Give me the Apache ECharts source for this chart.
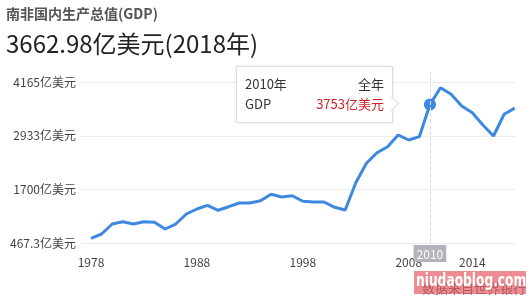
<!DOCTYPE html>
<html><head><meta charset="utf-8">
<script src="https://cdn.jsdelivr.net/npm/echarts@6/dist/echarts.min.js"></script>
<style>html,body{margin:0;padding:0;background:#fff}#c{width:531px;height:300px}</style>
</head><body><div id="c"></div>
<script>
// ---- data ----
const years = [1978,1979,1980,1981,1982,1983,1984,1985,1986,1987,1988,1989,1990,1991,1992,1993,1994,1995,1996,1997,1998,1999,2000,2001,2002,2003,2004,2005,2006,2007,2008,2009,2010,2011,2012,2013,2014,2015,2016,2017,2018];
const gdp = [467.3,573,818,875,818,875,860,696,818,1064,1187,1277,1155,1243,1334,1334,1390,1547,1481,1513,1376,1358,1358,1228,1162,1832,2309,2569,2716,3003,2881,2962,3753,4165,4002,3715,3551,3249,2979,3512,3662.98];
const xTickYears = [1978,1988,1998,2008,2014];
const yTickLabels = ['467.3','1700','2933','4165'];
const yTickPositions = [352,1667,2982,4297];
const unit = '亿美元';
const titleText = '南非国内生产总值(GDP)';
const subtitleText = '3662.98亿美元(2018年)';
const sourceText = '数据来自世界银行';
const watermarkText = 'niudaoblog.com';
const seriesName = 'GDP';
const periodText = '全年';
const highlightIndex = 32;

const FONT = '"Noto Sans CJK SC", "Noto Sans", sans-serif';
const BLUE = '#3f88e2';

const chart = echarts.init(document.getElementById('c'), null, {renderer: 'canvas'});
const lineData = years.map((y, i) => [y, gdp[i]]);

chart.setOption({
  animation: false,
  textStyle: {fontFamily: FONT},
  title: [
    {text: titleText, left: 6, top: 7, padding: 0, textStyle: {fontSize: 14, fontWeight: 'bold', color: '#555', fontFamily: FONT}},
    {text: subtitleText, left: 6, top: 32, padding: 0, textStyle: {fontSize: 24, fontWeight: 'normal', color: '#222', fontFamily: FONT}}
  ],
  grid: {left: 81, right: 16, top: 72, bottom: 57},
  xAxis: {
    type: 'value', min: 1977.056, max: 2018.03,
    axisLine: {show: false},
    axisTick: {show: false, customValues: xTickYears},
    splitLine: {show: false},
    axisLabel: {customValues: xTickYears, color: '#444', fontSize: 12, margin: 13, formatter: v => String(v)},
    axisPointer: {
      show: true, snap: true, type: 'line',
      lineStyle: {color: '#dcdcdc', width: 1},
      label: {show: true, formatter: p => String(Math.round(p.value)), backgroundColor: '#b3b3bb', color: '#fff', fontSize: 12, padding: [3, 3, 2, 3], margin: 2, borderRadius: 0, fontFamily: FONT}
    }
  },
  yAxis: {
    type: 'value', min: 352, max: 4550,
    axisLine: {show: false},
    axisTick: {show: false, customValues: yTickPositions},
    axisLabel: {
      customValues: yTickPositions, color: '#444', fontSize: 12, margin: 5,
      formatter: v => {
        let best = 0;
        yTickPositions.forEach((p, i) => { if (Math.abs(p - v) < Math.abs(yTickPositions[best] - v)) best = i; });
        return yTickLabels[best] + unit;
      }
    },
    splitLine: {show: true, lineStyle: {color: '#ececec', width: 1}}
  },
  tooltip: {
    trigger: 'axis',
    triggerOn: 'none',
    alwaysShowContent: true,
    transitionDuration: 0,
    backgroundColor: '#fff',
    borderColor: '#dddddd',
    borderWidth: 1,
    borderRadius: 1,
    padding: 0,
    extraCssText: 'box-shadow: 0 0 3px rgba(0,0,0,0.12);',
    axisPointer: {type: 'line'},
    position: (point) => [point[0] - 194, point[1] - 38],
    formatter: (params) => {
      const p = Array.isArray(params) ? params[0] : params;
      const yr = years[p.dataIndex];
      const v = gdp[p.dataIndex];
      return '<div style="position:relative;width:139px;padding:7px 8px 8px;line-height:20px;font-size:13px;color:#333;font-family:' + FONT.replace(/"/g, "'") + '">' +
        '<div style="display:flex;justify-content:space-between"><span>' + yr + '年</span><span>' + periodText + '</span></div>' +
        '<div style="display:flex;justify-content:space-between"><span>' + seriesName + '</span><span style="color:#d0232b">' + v + unit + '</span></div>' +
        '<div style="position:absolute;right:-5px;top:31px;width:10px;height:10px;background:#fff;border-top:1px solid #ddd;border-right:1px solid #ddd;transform:rotate(45deg)"></div>' +
        '</div>';
    }
  },
  series: [
    {
      type: 'line', name: seriesName, data: lineData,
      showSymbol: false, symbol: 'circle', symbolSize: 11,
      lineStyle: {color: BLUE, width: 3},
      itemStyle: {color: BLUE},
      emphasis: {disabled: true}
    },
    {
      type: 'scatter', data: [lineData[highlightIndex]], symbol: 'circle', symbolSize: 11,
      itemStyle: {color: BLUE}, silent: true, emphasis: {disabled: true}, z: 5
    }
  ],
  graphic: [
    {type: 'text', x: 422, y: 282, z: 10, style: {text: sourceText, fontSize: 13, fill: '#777', fontFamily: FONT}},
    {type: 'rect', x: 414, y: 271, z: 11, shape: {width: 112, height: 23}, style: {fill: 'rgba(226,70,80,0.62)'}},
    {type: 'text', x: 416, y: 272, scaleX: 0.68, z: 12, style: {text: watermarkText, fontSize: 18, fontWeight: 'bold', fill: '#fff', fontFamily: '"DejaVu Sans", sans-serif'}}
  ]
});

chart.dispatchAction({type: 'showTip', seriesIndex: 0, dataIndex: highlightIndex});
</script>
</body></html>
